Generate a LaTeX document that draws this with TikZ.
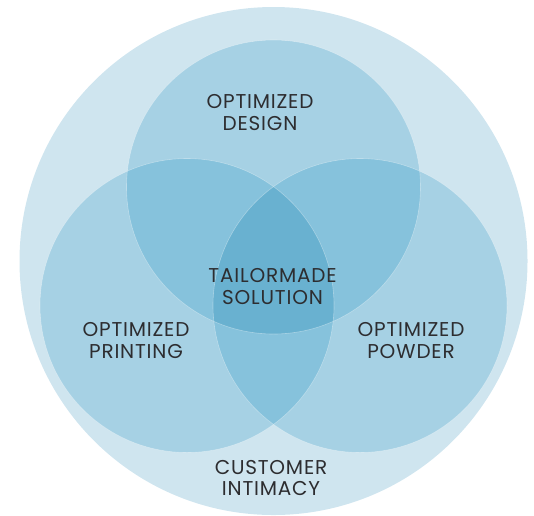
\documentclass[tikz,border=0pt]{standalone}
\usepackage{fontspec}
\setsansfont{Poppins}[LetterSpace=4]
\definecolor{outerblue}{RGB}{207,229,239}
\definecolor{oneblue}{RGB}{166,209,228}
\definecolor{twoblue}{RGB}{134,194,220}
\definecolor{threeblue}{RGB}{105,177,208}
\definecolor{labelgray}{RGB}{45,45,48}
\begin{document}
\begin{tikzpicture}[x=1pt,y=-1pt,
  venn label/.style={text=labelgray,font=\sffamily\fontsize{20}{21.5}\selectfont,align=center,inner sep=0pt},
  rim/.style={white,opacity=0.35,line width=0.6pt}]
\useasboundingbox (0,0) rectangle (534,515);
% centres
\coordinate (cO) at (273.5,261);
\coordinate (cD) at (273.5,187);
\coordinate (cP) at (187,305.5);
\coordinate (cW) at (360,305.5);
% customer intimacy
\fill[outerblue] (cO) circle (254pt);
% single sets
\fill[oneblue] (cD) circle (147pt);
\fill[oneblue] (cP) circle (147pt);
\fill[oneblue] (cW) circle (147pt);
% pairwise overlaps
\begin{scope}
\clip (cD) circle (147pt);
\fill[twoblue] (cP) circle (147pt);
\fill[twoblue] (cW) circle (147pt);
\end{scope}
\begin{scope}
\clip (cP) circle (147pt);
\fill[twoblue] (cW) circle (147pt);
\end{scope}
% centre overlap
\begin{scope}
\clip (cD) circle (147pt);
\clip (cP) circle (147pt);
\fill[threeblue] (cW) circle (147pt);
\end{scope}
\draw[rim] (cD) circle (147pt);
\draw[rim] (cP) circle (147pt);
\draw[rim] (cW) circle (147pt);
% labels
\node[venn label] (design) at (260,112.5) {OPTIMIZED\\DESIGN};
\node[venn label] (tailor) at (272.5,286.5) {TAILORMADE\\SOLUTION};
\node[venn label] (printing) at (136,340.5) {OPTIMIZED\\PRINTING};
\node[venn label] (powder) at (411,340.5) {OPTIMIZED\\POWDER};
\node[venn label] (intimacy) at (271,478) {CUSTOMER\\INTIMACY};
\end{tikzpicture}
\end{document}
